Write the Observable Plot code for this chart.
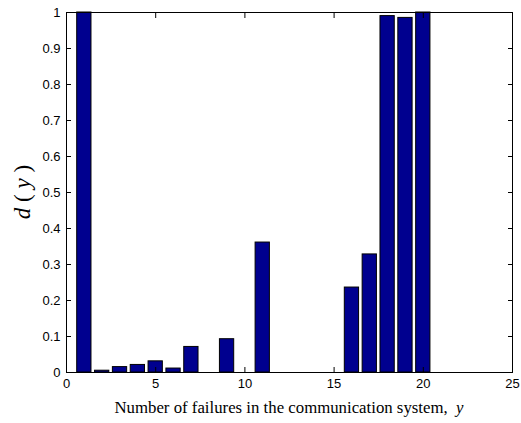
<!DOCTYPE html>
<html>
<head>
<meta charset="utf-8">
<script src="https://cdn.jsdelivr.net/npm/d3@7"></script>
<script src="https://cdn.jsdelivr.net/npm/@observablehq/plot@0.6"></script>
<style>
  body { margin: 0; background: #fff; }
  #chart { width: 521px; height: 423px; }
</style>
</head>
<body>
<div id="chart"></div>
<script>
const failures = [1,2,3,4,5,6,7,8,9,10,11,12,13,14,15,16,17,18,19,20];
const dValues = [1.0,0.005,0.015,0.021,0.031,0.011,0.071,0,0.0925,0,0.361,0,0,0,0,0.236,0.328,0.99,0.985,1.0];
const xTicks = [0,5,10,15,20,25];
const yTicks = [0,0.1,0.2,0.3,0.4,0.5,0.6,0.7,0.8,0.9,1];
const xLabel = "Number of failures in the communication system,";
const xLabelVar = "y";

const data = failures.map((f, i) => ({f, v: dValues[i]}));
const barWidth = 0.8;

const W = 521, H = 423;
const mL = 66, mR = 9, mT = 12, mB = 51;

const chart = Plot.plot({
  width: W, height: H,
  marginLeft: mL, marginRight: mR, marginTop: mT, marginBottom: mB,
  style: {fontFamily: "'Liberation Sans', Arial, sans-serif", fontSize: "13px", color: "black", background: "white", overflow: "visible"},
  x: {domain: [0, 25]},
  y: {domain: [0, 1]},
  marks: [
    Plot.rectY(data, {x1: d => d.f - barWidth/2, x2: d => d.f + barWidth/2, y: "v", fill: "#00008f", stroke: "black", strokeWidth: 1}),
    Plot.axisX({anchor: "bottom", ticks: xTicks, tickSize: -5, tickPadding: 11, tickFormat: d => String(d), label: null, fontSize: 13}),
    Plot.axisX({anchor: "top", ticks: xTicks, tickSize: -5, tickFormat: () => "", label: null}),
    Plot.axisY({anchor: "left", ticks: yTicks, tickSize: -5, tickPadding: 11, tickFormat: d => String(d), label: null, fontSize: 13}),
    Plot.axisY({anchor: "right", ticks: yTicks, tickSize: -5, tickFormat: () => "", label: null}),
    Plot.frame({stroke: "black", strokeWidth: 1})
  ]
});
document.getElementById("chart").appendChild(chart);

const svg = d3.select(chart);
const cx = mL + (W - mL - mR) / 2;
const xl = svg.append("text")
  .attr("x", cx).attr("y", 413)
  .attr("text-anchor", "middle")
  .style("font-family", "'Liberation Serif', 'Times New Roman', serif")
  .style("font-size", "16.8px")
  .attr("fill", "black");
xl.append("tspan").text(xLabel + "\u00a0\u00a0");
xl.append("tspan").style("font-style", "italic").text(xLabelVar);

const yl = svg.append("text")
  .attr("transform", `translate(30, ${mT + (H - mT - mB) / 2}) rotate(-90)`)
  .attr("text-anchor", "middle")
  .style("font-family", "'Liberation Serif', 'Times New Roman', serif")
  .style("font-size", "23px")
  .attr("fill", "black");
yl.append("tspan").style("font-style", "italic").text("d");
yl.append("tspan").text("\u00a0(\u00a0");
yl.append("tspan").style("font-style", "italic").text("y");
yl.append("tspan").text("\u00a0)");
</script>
</body>
</html>
